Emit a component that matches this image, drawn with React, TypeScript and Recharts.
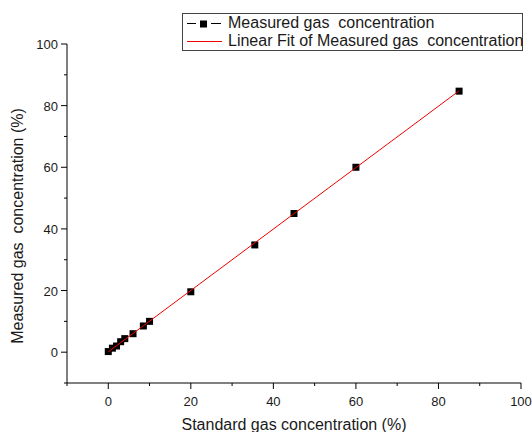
import React from 'react';
import { ScatterChart, Scatter, XAxis, YAxis, Legend } from 'recharts';

const standardConc = [0, 1, 2, 3, 4, 6, 8.5, 10, 20, 35.5, 45, 60, 85];
const measuredConc = [0.2, 1.3, 2, 3.4, 4.4, 6, 8.5, 10, 19.6, 34.8, 45, 60, 84.7];
const fitX = [0, 85];
const fitY = [0.1, 84.8];
const xTicks = [-10, 0, 10, 20, 30, 40, 50, 60, 70, 80, 90, 100];
const yTicks = [-10, 0, 10, 20, 30, 40, 50, 60, 70, 80, 90, 100];
const seriesName = 'Measured gas  concentration';
const fitName = 'Linear Fit of Measured gas  concentration';
const xTitle = 'Standard gas concentration (%)';
const yTitle = 'Measured gas  concentration (%)';

const measured = standardConc.map((x, i) => ({ x, y: measuredConc[i] }));
const fit = fitX.map((x, i) => ({ x, y: fitY[i] }));

const FONT = '"Liberation Sans", Arial, Helvetica, sans-serif';
const TEXT = '#1a1a1a';
const RED = '#f00000';

function XTick(props: any) {
  const { x, y, payload } = props;
  const v = payload.value;
  const major = v % 20 === 0;
  return (
    <g>
      <line x1={x} y1={y} x2={x} y2={y + (major ? 6 : 3)} stroke="#000" strokeWidth={1} />
      {major && (
        <text x={x} y={y + 23} textAnchor="middle" fontSize={13} fill={TEXT} fontFamily={FONT}>
          {v}
        </text>
      )}
    </g>
  );
}

function YTick(props: any) {
  const { x, y, payload } = props;
  const v = payload.value;
  const major = v % 20 === 0;
  return (
    <g>
      <line x1={x - (major ? 6 : 3)} y1={y} x2={x} y2={y} stroke="#000" strokeWidth={1} />
      {major && (
        <text x={x - 9} y={y + 5} textAnchor="end" fontSize={13} fill={TEXT} fontFamily={FONT}>
          {v}
        </text>
      )}
    </g>
  );
}

const Square = (p: any) => (
  <rect x={p.cx - 3.5} y={p.cy - 3.5} width={7} height={7} fill="#000" />
);
const NoShape = () => <g />;

const LegendBox = () => (
  <div
    style={{
      position: 'relative',
      width: 341,
      height: 38,
      boxSizing: 'border-box',
      border: '1px solid #444',
      background: '#fff',
      fontFamily: FONT,
      fontSize: 16,
      color: TEXT,
    }}
  >
    <svg width={44} height={36} style={{ position: 'absolute', left: 0, top: 0 }}>
      <line x1={4} y1={9.5} x2={13} y2={9.5} stroke="#000" strokeWidth={1} />
      <rect x={17} y={6.5} width={7} height={7} fill="#000" />
      <line x1={28} y1={9.5} x2={38} y2={9.5} stroke="#000" strokeWidth={1} />
      <line x1={4} y1={27.5} x2={39} y2={27.5} stroke={RED} strokeWidth={1} />
    </svg>
    <div style={{ position: 'absolute', left: 45, top: 0, lineHeight: '18px', whiteSpace: 'pre' }}>
      {seriesName}
    </div>
    <div style={{ position: 'absolute', left: 45, top: 18, lineHeight: '18px', whiteSpace: 'pre' }}>
      {fitName}
    </div>
  </div>
);

export default function App() {
  return (
    <div style={{ position: 'absolute', left: 0, top: 0, width: 532, height: 432, background: '#fff' }}>
      <ScatterChart width={532} height={432} margin={{ top: 44, right: 11, bottom: 0, left: 0 }}>
        <XAxis
          type="number"
          dataKey="x"
          domain={[-10, 100]}
          ticks={xTicks}
          interval={0}
          tickSize={0}
          tickMargin={0}
          tickLine={false}
          tick={<XTick />}
          axisLine={{ stroke: '#000', strokeWidth: 1 }}
          height={49}
          allowDataOverflow
          label={() => (
            <text x={294} y={430} textAnchor="middle" fontSize={16} fill={TEXT} fontFamily={FONT}>
              {xTitle}
            </text>
          )}
        />
        <YAxis
          type="number"
          dataKey="y"
          domain={[-10, 100]}
          ticks={yTicks}
          interval={0}
          tickSize={0}
          tickMargin={0}
          tickLine={false}
          tick={<YTick />}
          axisLine={{ stroke: '#000', strokeWidth: 1 }}
          width={67}
          allowDataOverflow
          label={() => (
            <text
              x={23}
              y={226}
              transform="rotate(-90, 23, 226)"
              textAnchor="middle"
              fontSize={16}
              fill={TEXT}
              fontFamily={FONT}
              style={{ whiteSpace: 'pre' }}
            >
              {yTitle}
            </text>
          )}
        />
        <Legend
          layout="horizontal"
          verticalAlign="middle"
          align="center"
          wrapperStyle={{ left: 182, top: 13, width: 341, height: 38 }}
          content={() => <LegendBox />}
        />
        <Scatter
          name={seriesName}
          data={measured}
          fill="#000"
          shape={Square}
          isAnimationActive={false}
        />
        <Scatter
          name={fitName}
          data={fit}
          fill={RED}
          line={{ stroke: RED, strokeWidth: 1 }}
          shape={NoShape}
          isAnimationActive={false}
        />
      </ScatterChart>
    </div>
  );
}
